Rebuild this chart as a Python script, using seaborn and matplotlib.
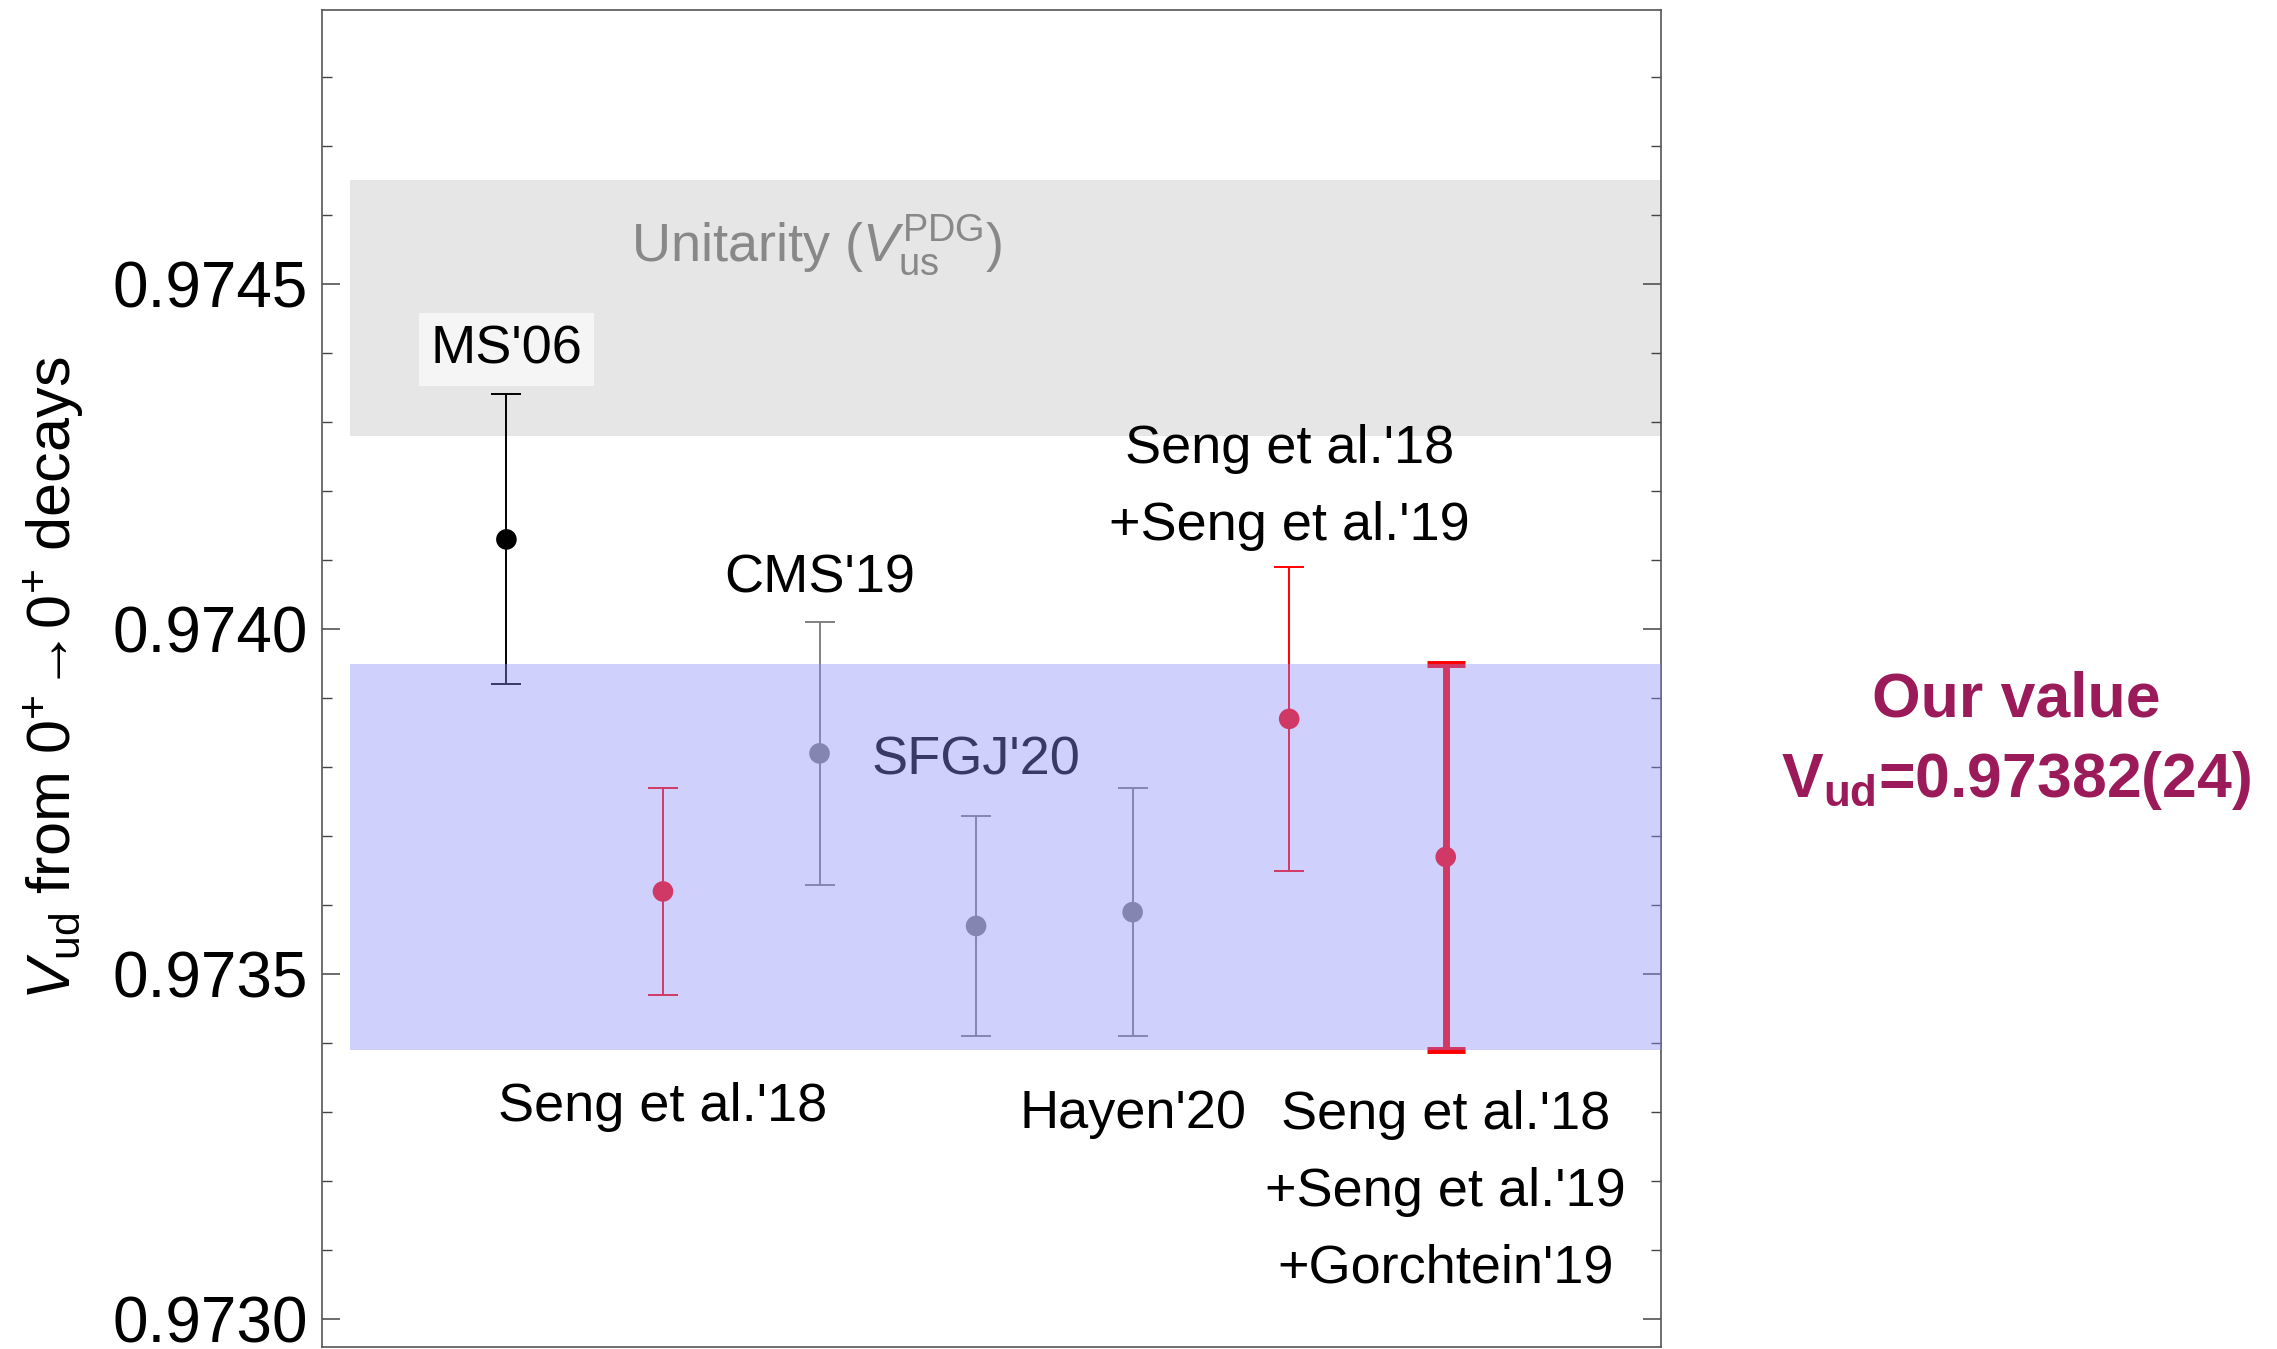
import numpy as np
import pandas as pd
import matplotlib
matplotlib.use("Agg")
import matplotlib.pyplot as plt
import seaborn as sns
from matplotlib.ticker import MultipleLocator

# ---------------- data ----------------
point_names = ["MS'06", "Seng et al.'18", "CMS'19", "SFGJ'20", "Hayen'20",
               "Seng18+19", "Seng18+19+G19"]
positions = [1, 2, 3, 4, 5, 6, 7]
values = [0.97413, 0.97362, 0.97382, 0.97357, 0.97359, 0.97387, 0.97367]
errors = [0.00021, 0.00015, 0.00019, 0.00016, 0.00018, 0.00022, 0.00028]
point_colors = ["#000000", "#ff0000", "#808080", "#808080", "#808080",
                "#ff0000", "#ff0000"]

unitarity_band = (0.97428, 0.97465)
sfgj_band = (0.97339, 0.97395)

annot_text = ["MS'06", "CMS'19", "Seng et al.'18", "Hayen'20",
              "Seng et al.'18\n+Seng et al.'19",
              "Seng et al.'18\n+Seng et al.'19\n+Gorchtein'19"]
annot_x = [1, 3, 2, 5, 6, 7]
annot_y = [0.974405, 0.974074, 0.973307, 0.973298, 0.974205, 0.973185]

yticks = [0.9730, 0.9735, 0.9740, 0.9745]
ytick_labels = ["0.9730", "0.9735", "0.9740", "0.9745"]

# ---------------- style ----------------
sns.set_theme(style="white")
plt.rcParams["font.family"] = ["Liberation Sans", "DejaVu Sans"]
plt.rcParams["mathtext.fontset"] = "custom"
plt.rcParams["mathtext.rm"] = "Liberation Sans"
plt.rcParams["mathtext.it"] = "Liberation Sans:italic"
plt.rcParams["mathtext.bf"] = "Liberation Sans:bold"
plt.rcParams["text.color"] = "black"
plt.rcParams["axes.labelcolor"] = "black"
plt.rcParams["ytick.color"] = "black"

fig = plt.figure(figsize=(22.77, 13.49), dpi=100)
ax = fig.add_axes([322 / 2277, 2 / 1349, (1661 - 322) / 2277, (1339 - 2) / 1349])

xmin, xmax = -0.178, 8.375
ax.set_xlim(xmin, xmax)
ax.set_ylim(0.97296, 0.974897)

# unitarity band (behind)
ax.fill_between([0.0, xmax], unitarity_band[0], unitarity_band[1],
                color="#e6e6e6", lw=0, zorder=0)
ax.text(2.98, 0.974555, r"Unitarity ($V_{\mathrm{us}}^{\mathrm{PDG}}$)",
        color="#888888", fontsize=39, ha="center", va="center", zorder=1)

# error bars
for i in range(len(values)):
    thick = (i == len(values) - 1)
    ax.errorbar(positions[i], values[i], yerr=errors[i], fmt="none",
                ecolor=point_colors[i],
                elinewidth=5 if thick else 1.4,
                capsize=14 if thick else 11,
                capthick=5 if thick else 1.4, zorder=2)

df = pd.DataFrame({"x": positions, "y": values, "name": point_names})
sns.scatterplot(data=df, x="x", y="y", hue="name",
                palette=dict(zip(point_names, point_colors)),
                s=220, edgecolor="none", legend=False, ax=ax, zorder=2.5)

ax.text(4.0, 0.973809, "SFGJ'20", color="black", fontsize=39,
        ha="center", va="center", zorder=2.6)

# SFGJ band drawn on top with transparency
ax.fill_between([0.0, xmax], sfgj_band[0], sfgj_band[1],
                color=(141 / 255, 141 / 255, 249 / 255), alpha=0.41,
                lw=0, zorder=3)

# annotations
for t, x, y in zip(annot_text, annot_x, annot_y):
    kw = {}
    if t == "MS'06":
        kw["bbox"] = dict(facecolor="#f5f5f5", edgecolor="none", pad=8)
    ax.text(x, y, t, fontsize=39, ha="center", va="center",
            linespacing=1.68, color="black", zorder=4, **kw)

# axes styling
ax.set_xticks([])
ax.set_yticks(yticks)
ax.set_yticklabels(ytick_labels)
ax.yaxis.set_minor_locator(MultipleLocator(0.0001))
ax.tick_params(axis="y", which="major", direction="in", length=13, width=1.1,
               color="#444444", labelcolor="black", labelsize=46, pad=10,
               left=True, right=True)
ax.tick_params(axis="y", which="minor", direction="in", length=7.5, width=1.0,
               color="#444444", left=True, right=True)
for sp in ax.spines.values():
    sp.set_visible(True)
    sp.set_color("#555555")
    sp.set_linewidth(1.2)

ax.set_xlabel("")
ax.set_ylabel(r"$V_{\mathrm{ud}}$ from $0^{+}\!\rightarrow\!0^{+}$ decays",
              fontsize=44, color="black")
ax.yaxis.set_label_coords(-0.176, 0.5)

# right-side text
fig.text(2016 / 2277, 1 - 700 / 1349, "Our value", color="#9b1b5a",
         fontsize=45, fontweight="bold", ha="center", va="center")
fig.text(2016 / 2277, 1 - 780 / 1349, r"V$_{\mathbf{ud}}$=0.97382(24)",
         color="#9b1b5a", fontsize=45, fontweight="bold",
         ha="center", va="center")

fig.savefig("out.png", dpi=100)
